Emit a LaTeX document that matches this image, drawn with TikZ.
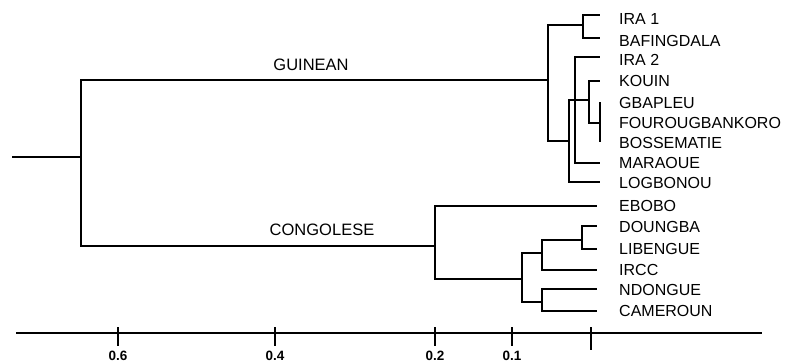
\documentclass[tikz,border=0pt]{standalone}
\usepackage{fontspec}
\setmainfont{Liberation Sans}

\begin{document}
\begin{tikzpicture}[x=1pt, y=-1pt,
  br/.style={line width=1.3pt, black},
  leaf/.style={anchor=west, inner sep=0pt, font=\fontsize{16}{18}\selectfont},
  grp/.style={inner sep=0pt, font=\fontsize{16.5}{18}\selectfont},
  tick/.style={inner sep=0pt, font=\fontsize{13.5}{15}\selectfont\bfseries}]
\useasboundingbox (0,0) rectangle (787,364);

% internal nodes of the tree
\coordinate (r0) at (12,157);  \coordinate (root) at (81,157);
\coordinate (gui) at (548,80); \coordinate (con) at (435,246);
\coordinate (ira) at (583,25); \coordinate (low) at (569,141);
\coordinate (mid) at (575,110); \coordinate (kou) at (589,100);
\coordinate (gba) at (600,123);
\coordinate (c2) at (522,279); \coordinate (c3) at (542,253);
\coordinate (c4) at (542,302); \coordinate (c5) at (582,240);

% leaf tips
\coordinate (t1) at (600,15);  \coordinate (t2) at (600,38);
\coordinate (t3) at (600,57);  \coordinate (t4) at (600,81);
\coordinate (t5) at (600,102); \coordinate (t6) at (600,123);
\coordinate (t7) at (600,142); \coordinate (t8) at (600,163);
\coordinate (t9) at (600,182);
\coordinate (t10) at (597,206); \coordinate (t11) at (597,226);
\coordinate (t12) at (597,249); \coordinate (t13) at (597,270);
\coordinate (t14) at (597,289); \coordinate (t15) at (597,311);

% labels
\node[leaf] at (619,19) (l1) {IRA 1};
\node[leaf] at (619,41) (l2) {BAFINGDALA};
\node[leaf] at (619,60) (l3) {IRA 2};
\node[leaf] at (619,81) (l4) {KOUIN};
\node[leaf] at (619,103) (l5) {GBAPLEU};
\node[leaf] at (619,123) (l6) {FOUROUGBANKORO};
\node[leaf] at (619,143) (l7) {BOSSEMATIE};
\node[leaf] at (619,163) (l8) {MARAOUE};
\node[leaf] at (619,183) (l9) {LOGBONOU};
\node[leaf] at (619,206) (l10) {EBOBO};
\node[leaf] at (619,227) (l11) {DOUNGBA};
\node[leaf] at (619,249) (l12) {LIBENGUE};
\node[leaf] at (619,270) (l13) {IRCC};
\node[leaf] at (619,290) (l14) {NDONGUE};
\node[leaf] at (619,311) (l15) {CAMEROUN};

\node[grp] at (311,65) (guinean) {GUINEAN};
\node[grp] at (322,230) (congo) {CONGOLESE};

% branches
\draw[br] (r0)--(root); \draw[br] (root) |- (gui); \draw[br] (root) |- (con);
\draw[br] (gui) |- (ira); \draw[br] (gui) |- (low);
\draw[br] (ira) |- (t1); \draw[br] (ira) |- (t2);
\draw[br] (low) |- (kou); \draw[br] (low) |- (t9);
\draw[br] (mid) |- (t3); \draw[br] (mid) |- (t8);
\draw[br] (kou) |- (t4); \draw[br] (kou) |- (gba);
\draw[br] (gba) |- (t5); \draw[br] (gba) |- (t7);
\draw[br] (con) |- (t10); \draw[br] (con) |- (c2);
\draw[br] (c2) |- (c3); \draw[br] (c2) |- (c4);
\draw[br] (c3) |- (c5); \draw[br] (c3) |- (t13);
\draw[br] (c5) |- (t11); \draw[br] (c5) |- (t12);
\draw[br] (c4) |- (t14); \draw[br] (c4) |- (t15);

% scale
\coordinate (ax0) at (16,333); \coordinate (ax1) at (762,333);
\draw[br] (ax0)--(ax1);
\foreach \x/\lab in {118/0.6, 275/0.4, 435/0.2, 512/0.1} {
  \draw[br] (\x,327)--(\x,346);
  \node[tick] at (\x,356) (n\lab) {\lab};
}
\coordinate (z0) at (591,327); \coordinate (z1) at (591,350);
\draw[br] (z0)--(z1);
\end{tikzpicture}
\end{document}
